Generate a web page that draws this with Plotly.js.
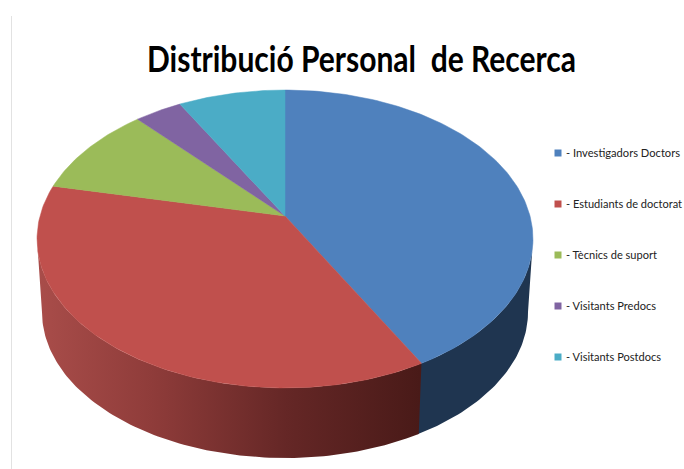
<!DOCTYPE html>
<html>
<head>
<meta charset="utf-8">
<script src="https://cdn.plot.ly/plotly-3.0.1.min.js"></script>
<style>html,body{margin:0;padding:0;background:#fff;overflow:hidden}#chart{width:684px;height:469px}</style>
</head>
<body>
<div id="chart"></div>
<script>
// Data
var categories = ['- Investigadors Doctors', '- Estudiants de doctorat', '- Tècnics de suport', '- Visitants Predocs', '- Visitants Postdocs'];
var shares = [42.0, 36.4, 9.9, 3.6, 8.1];
var topColors = ['#4f81bd', '#c0504d', '#9bbb59', '#8064a2', '#4bacc6'];
var titleText = 'Distribució Personal \u00a0de Recerca';
var legendTextWidths = [114, 116, 91, 90, 95];

// Perspective geometry of the disc
var cx = 285, apexY = 216, K = 245, k = 145.4, c = 0.1543;
var bottomScale = 0.98, bottomApexY = 289.5;
var rightEdge = 98.9, leftEdge = 261.1;

function project(deg) {
  var t = deg * Math.PI / 180, u = Math.sin(t), v = Math.cos(t), w = 1 + c * v;
  return {dx: K * u / w, dy: -k * v / w};
}
function arc(a0, a1) {
  var pts = [], n = Math.max(2, Math.ceil(Math.abs(a1 - a0)));
  for (var i = 0; i <= n; i++) pts.push(project(a0 + (a1 - a0) * i / n));
  return pts;
}
var total = shares.reduce(function (a, b) { return a + b; }, 0);
var edges = [0];
shares.forEach(function (s, i) { edges.push(edges[i] + s / total * 360); });

var traces = [];
function side(a0, a1, extra) {
  var top = arc(a0, a1), bot = top.slice().reverse();
  var xs = top.map(function (p) { return cx + p.dx; }).concat(bot.map(function (p) { return cx + bottomScale * p.dx; }));
  var ys = top.map(function (p) { return apexY + p.dy; }).concat(bot.map(function (p) { return bottomApexY + bottomScale * p.dy; }));
  xs.push(xs[0]); ys.push(ys[0]);
  traces.push(Object.assign({type: 'scatter', mode: 'lines', x: xs, y: ys, fill: 'toself', line: {width: 0},
    showlegend: false, hoverinfo: 'skip'}, extra));
}
side(rightEdge, edges[1] + 0.3, {fillcolor: '#1f3550'});
side(edges[1], leftEdge, {fillgradient: {type: 'horizontal', start: 37, stop: 420,
  colorscale: [[0, '#a94d4a'], [0.3, '#8f3c3a'], [0.65, '#652726'], [1, '#491a18']]}});

shares.forEach(function (s, i) {
  var pts = arc(edges[i], edges[i + 1]);
  var xs = [cx].concat(pts.map(function (p) { return cx + p.dx; }), [cx]);
  var ys = [apexY].concat(pts.map(function (p) { return apexY + p.dy; }), [apexY]);
  traces.push({type: 'scatter', mode: 'lines', x: xs, y: ys, fill: 'toself', fillcolor: topColors[i],
    line: {width: 0.5, color: topColors[i]}, showlegend: false, name: categories[i],
    hovertemplate: categories[i] + ': ' + s + '%<extra></extra>'});
});
categories.forEach(function (name, i) {
  traces.push({type: 'scatter', mode: 'markers', x: [null], y: [null], name: name, legendgroup: 'g' + i,
    marker: {symbol: 'square', size: 7, color: topColors[i]}, hoverinfo: 'skip'});
});

var layout = {
  width: 684, height: 469, margin: {l: 0, r: 0, t: 0, b: 0, autoexpand: false},
  paper_bgcolor: '#fff', plot_bgcolor: 'rgba(0,0,0,0)',
  title: {text: titleText, x: 361.5 / 684, xanchor: 'center', y: 1 - 59 / 469, yanchor: 'middle',
    font: {family: 'Lato, sans-serif', size: 37, color: '#000', weight: 700}},
  xaxis: {range: [0, 684], visible: false, fixedrange: true},
  yaxis: {range: [469, 0], visible: false, fixedrange: true},
  showlegend: true,
  legend: {x: 526 / 684, xanchor: 'left', y: 1 - 138.5 / 469, yanchor: 'top', tracegroupgap: 32, bgcolor: 'rgba(0,0,0,0)',
    borderwidth: 0, itemclick: false, itemdoubleclick: false,
    font: {family: 'Lato, sans-serif', size: 11, color: '#222'}},
  shapes: [{type: 'line', xref: 'x', yref: 'y', x0: 11.5, x1: 11.5, y0: 16, y1: 469, line: {color: '#e2e2e2', width: 1}}]
};
function fit(el, width) {
  el.setAttribute('textLength', width);
  el.setAttribute('lengthAdjust', 'spacingAndGlyphs');
}
Plotly.newPlot('chart', traces, layout, {displayModeBar: false, responsive: false}).then(function (gd) {
  gd.querySelectorAll('.legend .legendsymbols').forEach(function (el) {
    el.setAttribute('transform', 'translate(12,0)');
  });
  gd.querySelectorAll('.legend .legendtext').forEach(function (el, i) { fit(el, legendTextWidths[i]); });
  var clip = gd.querySelector('.legend .scrollbox');
  if (clip) clip.removeAttribute('clip-path');
  fit(gd.querySelector('.gtitle'), 429);
});
</script>
</body>
</html>
